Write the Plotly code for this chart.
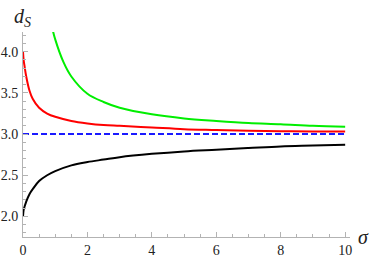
import plotly.graph_objects as go

sigma_black = [0, 0.02, 0.05, 0.1, 0.2, 0.3, 0.5, 0.75, 1, 1.5, 2, 2.5, 3, 4, 5, 6, 7, 8, 9, 10]
d_black = [2.0, 2.08, 2.12, 2.18, 2.27, 2.33, 2.43, 2.50, 2.55, 2.62, 2.66, 2.69, 2.72, 2.76, 2.79, 2.81, 2.83, 2.85, 2.86, 2.87]

sigma_red = [0, 0.02, 0.05, 0.1, 0.2, 0.3, 0.5, 0.75, 1, 1.5, 2, 2.5, 3, 4, 5, 6, 7, 8, 9, 10]
d_red = [4.0, 3.90, 3.82, 3.70, 3.53, 3.43, 3.32, 3.25, 3.21, 3.16, 3.13, 3.11, 3.10, 3.08, 3.06, 3.05, 3.04, 3.035, 3.03, 3.03]

sigma_green = [0.9, 1.0, 1.25, 1.5, 2, 2.5, 3, 4, 5, 6, 7, 8, 9, 10]
d_green = [4.30, 4.15, 3.88, 3.70, 3.49, 3.39, 3.32, 3.24, 3.19, 3.16, 3.135, 3.12, 3.10, 3.09]

sigma_blue = [0, 10]
d_blue = [3.0, 3.0]

x_tickvals = [0, 2, 4, 6, 8, 10]
x_ticktext = ["0", "2", "4", "6", "8", "10"]
y_tickvals = [2.0, 2.5, 3.0, 3.5, 4.0]
y_ticktext = ["2.0", "2.5", "3.0", "3.5", "4.0"]

fig = go.Figure()
fig.add_trace(go.Scatter(x=sigma_black, y=d_black, mode="lines",
                         line=dict(color="black", width=2, shape="spline")))
fig.add_trace(go.Scatter(x=sigma_red, y=d_red, mode="lines",
                         line=dict(color="#ff0000", width=2, shape="spline")))
fig.add_trace(go.Scatter(x=sigma_green, y=d_green, mode="lines",
                         line=dict(color="#00ee00", width=2, shape="spline")))
fig.add_trace(go.Scatter(x=sigma_blue, y=d_blue, mode="lines",
                         line=dict(color="#1a1aff", width=2, dash="6px,3px")))

serif = "Liberation Serif"
axis_color = "#b3b3b3"

fig.update_layout(
    template="none",
    width=374, height=261,
    margin=dict(l=23, r=24, t=32, b=24),
    paper_bgcolor="white", plot_bgcolor="white",
    showlegend=False,
    font=dict(family=serif, size=14, color="#222222"),
    annotations=[
        dict(text="<i>d</i><sub><i>S</i></sub>", xref="paper", yref="paper",
             x=-0.035, y=1.0, xanchor="left", yanchor="bottom", showarrow=False,
             font=dict(family=serif, size=20, color="#222222")),
        dict(text="<i>σ</i>", xref="paper", yref="paper",
             x=1.0, y=0.0, xanchor="left", yanchor="middle", showarrow=False, xshift=6,
             font=dict(family=serif, size=20, color="#222222")),
    ],
)
fig.update_xaxes(range=[0, 10.15], showgrid=False, zeroline=False, automargin=False,
                 showline=True, linecolor=axis_color, linewidth=1,
                 ticks="inside", ticklen=5, tickcolor=axis_color,
                 tickmode="array", tickvals=x_tickvals, ticktext=x_ticktext,
                 tickfont_family=serif, tickfont_size=14, tickfont_color="#222222",
                 minor=dict(ticks="inside", dtick=0.5, ticklen=3, tickcolor=axis_color, showgrid=False))
fig.update_yaxes(range=[1.75, 4.24], showgrid=False, zeroline=False, automargin=False,
                 showline=True, linecolor=axis_color, linewidth=1,
                 ticks="inside", ticklen=5, tickcolor=axis_color,
                 tickmode="array", tickvals=y_tickvals, ticktext=y_ticktext,
                 ticklabelstandoff=1,
                 tickfont_family=serif, tickfont_size=14, tickfont_color="#222222",
                 minor=dict(ticks="inside", dtick=0.1, ticklen=3, tickcolor=axis_color, showgrid=False))

fig.write_html("out.html", config={"displayModeBar": False},
               post_script="document.body.style.margin='0';")
